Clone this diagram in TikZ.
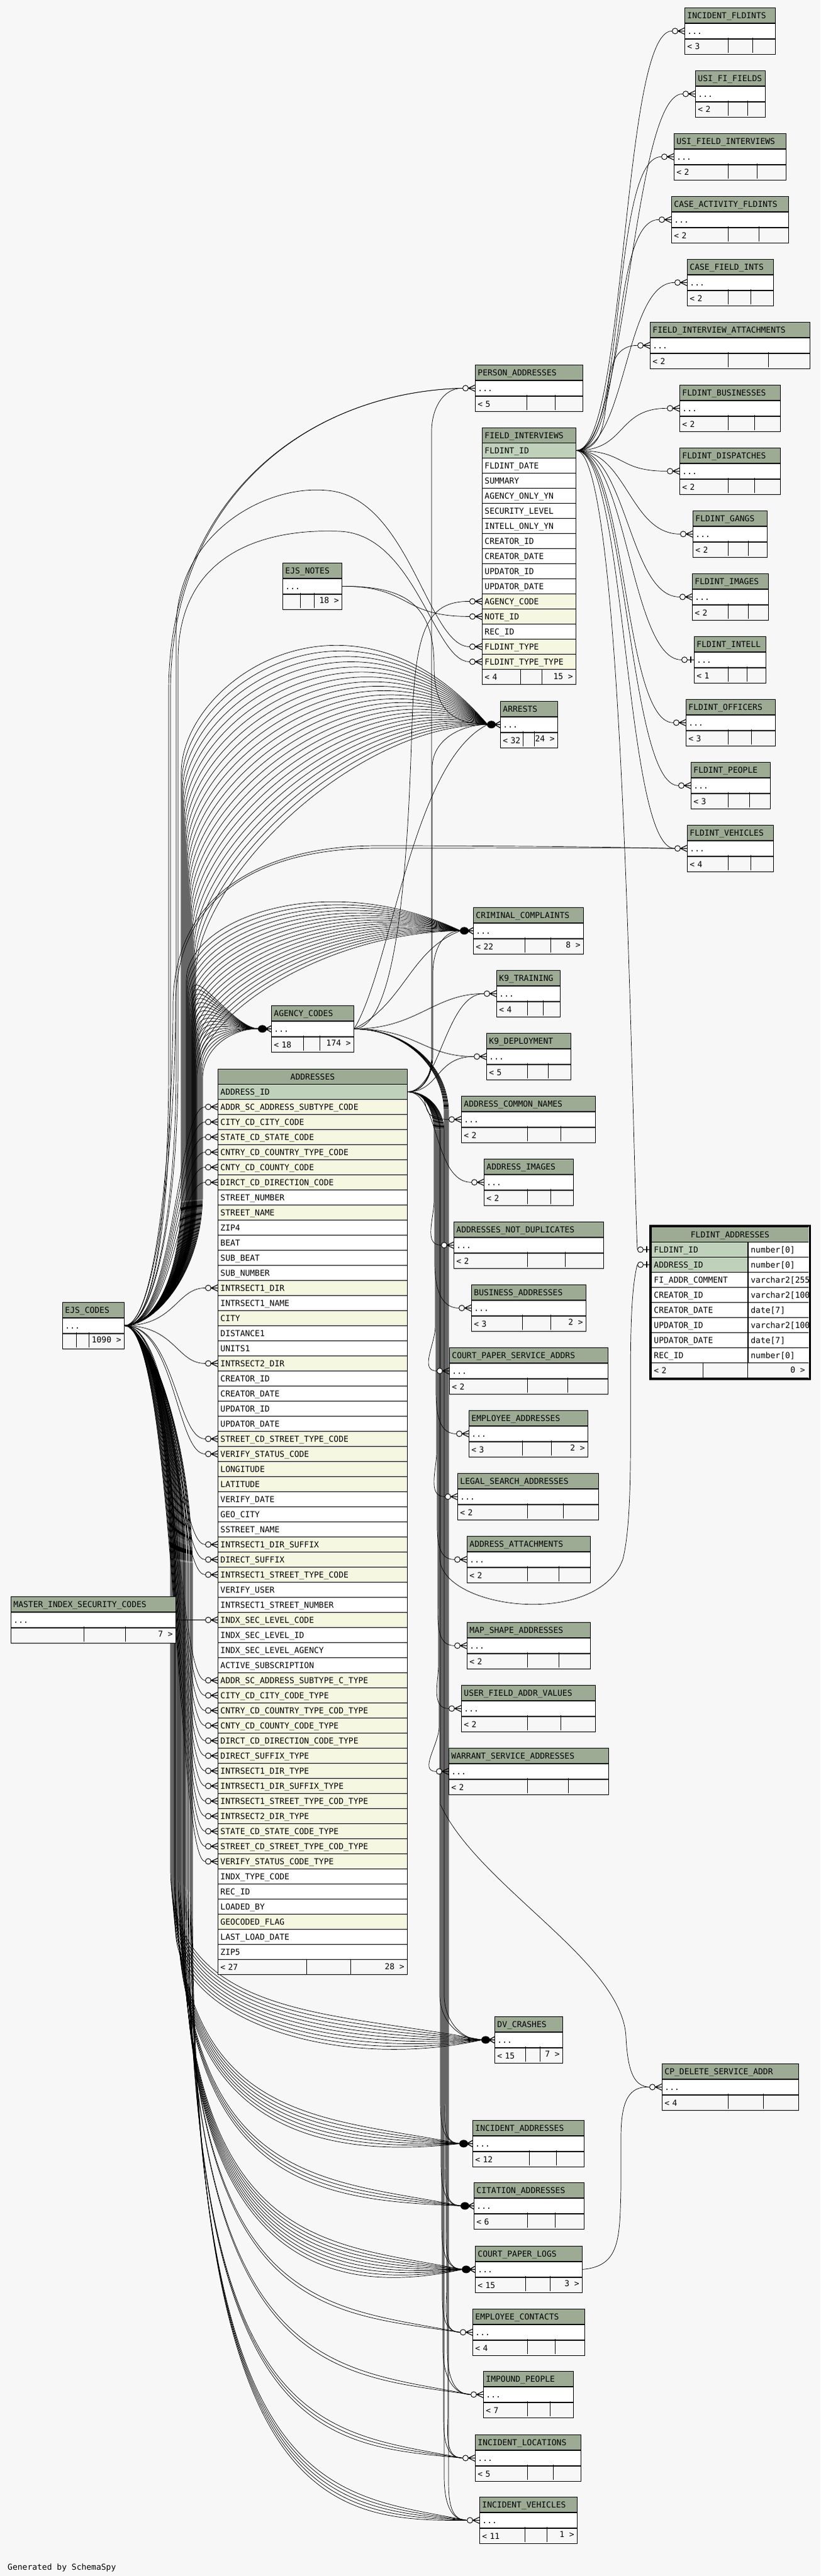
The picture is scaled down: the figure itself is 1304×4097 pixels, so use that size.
\documentclass[tikz,border=0pt]{standalone}
\usepackage{fontspec}
\setmonofont{DejaVu Sans Mono}
\usepackage{tikz}
\usetikzlibrary{positioning,calc,backgrounds}

\definecolor{canvas}{RGB}{247,247,247}
\definecolor{headgreen}{RGB}{157,171,149}
\definecolor{keygreen}{RGB}{191,209,186}
\definecolor{fkyellow}{RGB}{245,247,225}

\begin{document}
\begin{tikzpicture}[
		x=1pt, y=-1pt,
		txt/.style  = {font=\fontsize{13}{13}\selectfont\ttfamily, text height=9.5pt, text depth=0pt},
		cell/.style = {txt, draw, line width=0.9pt, inner xsep=4pt, inner ysep=0pt, minimum height=24pt, align=left},
		head/.style = {cell, fill=headgreen},
		dots/.style = {cell, fill=white},
		foot/.style = {cell, fill=canvas},
		pk/.style   = {cell, fill=keygreen},
		fk/.style   = {cell, fill=fkyellow},
		col/.style  = {cell, fill=white},
		rel/.style  = {line width=0.7pt},
		crow/.pic   = {\draw[line width=0.9pt, fill=canvas] (-15,0) circle[radius=4.5];
		               \draw[line width=1.1pt] (0,-5) -- (-10.5,0) -- (0,5) (-10.5,0) -- (0,0);},
		crowblob/.pic = {\fill (-14,0) ellipse[x radius=7, y radius=6];
		               \draw[line width=1.3pt] (0,-5) -- (-9,0) -- (0,5) (-9,0) -- (0,0);},
		one/.pic    = {\draw[line width=0.9pt, fill=canvas] (-15,0) circle[radius=4.5];
		               \draw[line width=0.9pt] (-10.5,0) -- (0,0);
		               \draw[line width=2.2pt] (-5,-5) -- (-5,5);}
	]
	\useasboundingbox (0,0) rectangle (1304,4097);

	% the small tables: header, one "..." row and the footer
	\foreach \n/\x/\y/\w/\tname/\fl/\fr/\dA/\dB [evaluate=\w as \tw using \w-8] in {
		incfld/1088/12/144/INCIDENT\_FLDINTS/<~3//1157/1196,
		usifi/1105/112/111/USI\_FI\_FIELDS/<~2//1157/1188,
		usifint/1071/212/178/USI\_FIELD\_INTERVIEWS/<~2//1157/1203,
		caseact/1067/312/186/CASE\_ACTIVITY\_FLDINTS/<~2//1157/1206,
		casefld/1092/412/137/CASE\_FIELD\_INTS/<~2//1157/1193,
		fiatt/1033/512/254/FIELD\_INTERVIEW\_ATTACHMENTS/<~2//1157/1221,
		fbus/1080/612/160/FLDINT\_BUSINESSES/<~2//1157/1199,
		fdisp/1080/712/160/FLDINT\_DISPATCHES/<~2//1157/1199,
		fgang/1101/812/118/FLDINT\_GANGS/<~2//1157/1189,
		fimg/1100/912/121/FLDINT\_IMAGES/<~2//1157/1189,
		fintell/1103/1012/114/FLDINT\_INTELL/<~1//1157/1187,
		foff/1090/1112/142/FLDINT\_OFFICERS/<~3//1157/1194,
		fpeople/1098/1212/126/FLDINT\_PEOPLE/<~3//1157/1191,
		fveh/1092/1312/137/FLDINT\_VEHICLES/<~4//1157/1193,
		persaddr/755/580/171/PERSON\_ADDRESSES/<~5//837/882,
		arrests/795/1115/91/ARRESTS/<~32/24~>/831/849,
		crim/752/1443/175/CRIMINAL\_COMPLAINTS/<~22/8~>/834/875,
		k9t/789/1543/101/K9\_TRAINING/<~4//838/863,
		k9d/773/1643/134/K9\_DEPLOYMENT/<~5//838/871,
		addrcn/733/1743/213/ADDRESS\_COMMON\_NAMES/<~2//838/891,
		addrimg/769/1843/142/ADDRESS\_IMAGES/<~2//838/875,
		addrnd/721/1943/238/ADDRESSES\_NOT\_DUPLICATES/<~2//838/898,
		busaddr/749/2043/182/BUSINESS\_ADDRESSES/<~3/2~>/830/875,
		cpsa/714/2143/252/COURT\_PAPER\_SERVICE\_ADDRS/<~2//838/902,
		empaddr/745/2243/189/EMPLOYEE\_ADDRESSES/<~3/2~>/830/876,
		legal/727/2343/224/LEGAL\_SEARCH\_ADDRESSES/<~2//838/895,
		addratt/742/2443/196/ADDRESS\_ATTACHMENTS/<~2//838/888,
		mapshape/742/2580/196/MAP\_SHAPE\_ADDRESSES/<~2//838/888,
		ufav/733/2680/213/USER\_FIELD\_ADDR\_VALUES/<~2//838/891,
		warrant/713/2780/254/WARRANT\_SERVICE\_ADDRESSES/<~2//838/903,
		dvcr/786/3207/108/DV\_CRASHES/<~15/7~>/835/858,
		incaddr/751/3372/177/INCIDENT\_ADDRESSES/<~12//841/884,
		citaddr/753/3471/175/CITATION\_ADDRESSES/<~6//838/882,
		cplogs/755/3572/170/COURT\_PAPER\_LOGS/<~15/3~>/835/874,
		empcont/751/3672/178/EMPLOYEE\_CONTACTS/<~4//838/882,
		impound/768/3771/143/IMPOUND\_PEOPLE/<~7//838/874,
		incloc/755/3872/168/INCIDENT\_LOCATIONS/<~5//838/879,
		incveh/762/3971/155/INCIDENT\_VEHICLES/<~11/1~>/834/869,
		cpdel/1052/3282/217/CP\_DELETE\_SERVICE\_ADDR/<~4//1157/1213,
		ejs/99/2071/98/EJS\_CODES//1090~>/121/141,
		master/17/2539/262/MASTER\_INDEX\_SECURITY\_CODES//7~>/133/199,
		ejsnotes/449/895/94/EJS\_NOTES//18~>/477/499,
		agency/431/1599/131/AGENCY\_CODES/<~18/174~>/482/508}
	{
		\node[head, anchor=north west, minimum width=\w pt, text width=\tw pt] (\n) at (\x,\y) {\tname};
		\node[dots, below=0pt of \n, minimum width=\w pt, text width=\tw pt] (\n-d) {...};
		\node[foot, below=0pt of \n-d, minimum width=\w pt, text width=\tw pt] (\n-f) {\fl};
		\node[txt, anchor=east, inner sep=0pt] (\n-r) at (\x+\w-4,\y+60) {\fr};
		\draw[line width=0.9pt] (\dA,\y+48) -- (\dA,\y+72) (\dB,\y+48) -- (\dB,\y+72);
		\coordinate (\n-in) at ($(\n-d.west)+(-20,0)$);
	}

	% ADDRESSES, the big table in the middle
	\node[head, anchor=north west, minimum width=301pt, text width=293pt, align=center] (addr-0) at (346,1700) {ADDRESSES};
	\foreach \kind/\field [count=\idx] in {pk/ADDRESS\_ID, fk/ADDR\_SC\_ADDRESS\_SUBTYPE\_CODE, fk/CITY\_CD\_CITY\_CODE,
		fk/STATE\_CD\_STATE\_CODE, fk/CNTRY\_CD\_COUNTRY\_TYPE\_CODE, fk/CNTY\_CD\_COUNTY\_CODE, fk/DIRCT\_CD\_DIRECTION\_CODE,
		col/STREET\_NUMBER, fk/STREET\_NAME, col/ZIP4, col/BEAT, col/SUB\_BEAT, col/SUB\_NUMBER, fk/INTRSECT1\_DIR,
		col/INTRSECT1\_NAME, fk/CITY, col/DISTANCE1, col/UNITS1, fk/INTRSECT2\_DIR, col/CREATOR\_ID, col/CREATOR\_DATE,
		col/UPDATOR\_ID, col/UPDATOR\_DATE, fk/STREET\_CD\_STREET\_TYPE\_CODE, fk/VERIFY\_STATUS\_CODE, fk/LONGITUDE,
		fk/LATITUDE, col/VERIFY\_DATE, col/GEO\_CITY, col/SSTREET\_NAME, fk/INTRSECT1\_DIR\_SUFFIX, fk/DIRECT\_SUFFIX,
		fk/INTRSECT1\_STREET\_TYPE\_CODE, col/VERIFY\_USER, col/INTRSECT1\_STREET\_NUMBER, fk/INDX\_SEC\_LEVEL\_CODE,
		col/INDX\_SEC\_LEVEL\_ID, col/INDX\_SEC\_LEVEL\_AGENCY, col/ACTIVE\_SUBSCRIPTION, fk/ADDR\_SC\_ADDRESS\_SUBTYPE\_C\_TYPE,
		fk/CITY\_CD\_CITY\_CODE\_TYPE, fk/CNTRY\_CD\_COUNTRY\_TYPE\_COD\_TYPE, fk/CNTY\_CD\_COUNTY\_CODE\_TYPE,
		fk/DIRCT\_CD\_DIRECTION\_CODE\_TYPE, fk/DIRECT\_SUFFIX\_TYPE, fk/INTRSECT1\_DIR\_TYPE, fk/INTRSECT1\_DIR\_SUFFIX\_TYPE,
		fk/INTRSECT1\_STREET\_TYPE\_COD\_TYPE, fk/INTRSECT2\_DIR\_TYPE, fk/STATE\_CD\_STATE\_CODE\_TYPE,
		fk/STREET\_CD\_STREET\_TYPE\_COD\_TYPE, fk/VERIFY\_STATUS\_CODE\_TYPE, col/INDX\_TYPE\_CODE, col/REC\_ID,
		col/LOADED\_BY, fk/GEOCODED\_FLAG, col/LAST\_LOAD\_DATE, col/ZIP5}
	{
		\node[\kind, anchor=north west, minimum width=301pt, text width=293pt] (addr-\idx) at (346,1700+24*\idx) {\field};
		\coordinate (addr-\idx-in) at ($(addr-\idx.west)+(-20,0)$);
	}
	\node[foot, anchor=north west, minimum width=301pt, text width=293pt] (addr-f) at (346,3116) {<~27};
	\node[txt, anchor=east, inner sep=0pt] (addr-r) at (643,3128) {28~>};
	\draw[line width=0.9pt] (487,3116) -- (487,3140) (557,3116) -- (557,3140);

	% FIELD_INTERVIEWS
	\node[head, anchor=north west, minimum width=149pt, text width=141pt] (fi-0) at (766,680) {FIELD\_INTERVIEWS};
	\foreach \kind/\field [count=\idx] in {pk/FLDINT\_ID, col/FLDINT\_DATE, col/SUMMARY, col/AGENCY\_ONLY\_YN,
		col/SECURITY\_LEVEL, col/INTELL\_ONLY\_YN, col/CREATOR\_ID, col/CREATOR\_DATE, col/UPDATOR\_ID, col/UPDATOR\_DATE,
		fk/AGENCY\_CODE, fk/NOTE\_ID, col/REC\_ID, fk/FLDINT\_TYPE, fk/FLDINT\_TYPE\_TYPE}
	{
		\node[\kind, anchor=north west, minimum width=149pt, text width=141pt] (fi-\idx) at (766,680+24*\idx) {\field};
		\coordinate (fi-\idx-in) at ($(fi-\idx.west)+(-20,0)$);
	}
	\node[foot, anchor=north west, minimum width=149pt, text width=141pt] (fi-f) at (766,1064) {<~4};
	\node[txt, anchor=east, inner sep=0pt] (fi-r) at (911,1076) {15~>};
	\draw[line width=0.9pt] (827,1064) -- (827,1088) (861,1064) -- (861,1088);

	% FLDINT_ADDRESSES, the selected table with its column types
	\begin{scope}
		\clip (1035,1951) rectangle (1285,2191);
		\node[head, anchor=north west, minimum width=250pt, text width=242pt, align=center] (fa-0) at (1035,1951) {FLDINT\_ADDRESSES};
		\foreach \kind/\field/\dtype [count=\idx] in {pk/FLDINT\_ID/number[0], pk/ADDRESS\_ID/number[0],
			col/FI\_ADDR\_COMMENT/varchar2[255], col/CREATOR\_ID/varchar2[100], col/CREATOR\_DATE/date[7],
			col/UPDATOR\_ID/varchar2[100], col/UPDATOR\_DATE/date[7], col/REC\_ID/number[0]}
		{
			\node[\kind, anchor=north west, minimum width=153pt, text width=145pt] (fa-\idx) at (1035,1951+24*\idx) {\field};
			\node[col, anchor=north west, minimum width=97pt, text width=89pt] (fa-\idx-t) at (fa-\idx.north east) {\dtype};
			\coordinate (fa-\idx-in) at ($(fa-\idx.west)+(-22,0)$);
		}
		\node[foot, anchor=north west, minimum width=250pt, text width=242pt] (fa-f) at (1035,2167) {<~2};
		\node[txt, anchor=east, inner sep=0pt] (fa-r) at (1280,2179) {0~>};
		\draw[line width=0.9pt] (1117,2167) -- (1117,2191) (1188,2167) -- (1188,2191);
	\end{scope}
	\draw[line width=3pt] (1033,1949) rectangle (1287,2193);

	\node[txt, anchor=south west, inner sep=0pt] (credit) at (12,4088) {Generated by SchemaSpy};

	% the relationships, behind the tables
	\begin{scope}[on background layer]
		\fill[canvas] (0,0) rectangle (1304,4097);

		% FIELD_INTERVIEWS to its detail tables
		\foreach \c in {incfld,usifi,usifint,caseact,casefld,fiatt,fbus,fdisp,fgang,fimg,fintell,foff,fpeople,fveh}
		\draw[rel] (fi-1.east) .. controls +(80,0) and +(-80,0) .. (\c-in);
		\draw[rel] (fi-1.east) .. controls +(75,0) and +(-10,-250) .. (fa-1-in);

		% EJS_NOTES and AGENCY_CODES
		\draw[rel] (ejsnotes-d.east) .. controls +(110,0) and +(-110,0) .. (fi-12-in);
		\draw[rel] (ejsnotes-d.east) .. controls +(100,0) and (690,960) .. (690,1060) .. controls (690,1130) and (720,1151) .. (arrests-in);
		\draw[rel] (agency-d.east) .. controls (640,1635) and (650,1300) .. (655,1150) .. controls (660,1000) and (680,956) .. (fi-11-in);
		\draw[rel] (agency-d.east) .. controls +(100,0) and +(-80,0) .. (k9t-in);
		\draw[rel] (agency-d.east) .. controls +(100,0) and +(-80,0) .. (k9d-in);
		\draw[rel] (agency-d.east) .. controls +(80,-40) and +(-80,30) .. (crim-in);
		\draw[rel] (agency-d.east) .. controls +(60,-100) and +(-120,60) .. (arrests-in);
		\foreach \c/\bx/\ty in {dvcr/706/3243, incaddr/707/3408, citaddr/708/3507, cplogs/709/3608,
			empcont/710/3708, impound/711/3807, incloc/712/3908, incveh/713/4007}
		\draw[rel] (agency-d.east) to[out=0,in=90] (\bx,1770) -- (\bx,\ty-70) to[out=-90,in=180] (\c-in);

		% ADDRESSES to the tables that hold an address
		\foreach \c/\bx/\ty in {addrnd/690/1979, busaddr/691/2079, cpsa/692/2179, empaddr/693/2279, legal/694/2379,
			addratt/695/2479, mapshape/696/2616, ufav/697/2716, warrant/698/2816, dvcr/699/3243, incaddr/700/3408,
			citaddr/701/3507, cplogs/702/3608, empcont/703/3708, impound/704/3807, incloc/705/3908, incveh/706/4007}
		\draw[rel] (addr-1.east) to[out=0,in=90] (\bx,1800) -- (\bx,\ty-70) to[out=-90,in=180] (\c-in);
		\foreach \c/\bx/\ty in {persaddr/686/616, arrests/687/1151, crim/688/1479}
		\draw[rel] (addr-1.east) to[out=0,in=-90] (\bx,1680) -- (\bx,\ty+70) to[out=90,in=180] (\c-in);
		\foreach \c in {addrcn,addrimg,k9t,k9d}
		\draw[rel] (addr-1.east) .. controls +(50,0) and +(-60,0) .. (\c-in);
		\draw[rel] (addr-1.east) to[out=0,in=90] (699,1800) -- (699,2480) .. controls (705,2560) and (950,2590) .. (990,2480) .. controls (1015,2380) and (990,2100) .. (fa-2-in);
		\draw[rel] (addr-1.east) to[out=0,in=90] (700,1800) -- (700,2870) .. controls (760,3000) and (990,3120) .. (995,3240) .. controls (998,3300) and (1010,3318) .. (cpdel-in);
		\draw[rel] (cplogs-d.east) .. controls +(60,-5) and (985,3560) .. (987,3480) -- (987,3400) .. controls (987,3340) and (1000,3318) .. (cpdel-in);

		% MASTER_INDEX_SECURITY_CODES
		\draw[rel] (master-d.east) -- (addr-36-in);

		% EJS_CODES into the code columns of ADDRESSES
		\foreach \k in {2,3,4,5,6,7,14,19,24,25,31,32,33,40,41,42,43,44,45,46,47,48,49,50,51,52}
		\draw[rel] (ejs-d.east) .. controls +(80,0) and +(-45,0) .. (addr-\k-in);

		% EJS_CODES up to ARRESTS, CRIMINAL_COMPLAINTS and AGENCY_CODES
		\foreach \ii [evaluate=\ii as \xb using 288+\ii, evaluate=\ii as \yb using 1230+14*\ii, evaluate=\ii as \yc using 900+11*\ii] in {0,...,23}
		\draw[rel] (ejs-d.east) .. controls (250,2107) and (\xb,2020) .. (\xb,1900) -- (\xb,\yb) .. controls (\xb,\yb-150) and (560,\yc) .. (arrests-in);
		\foreach \ii [evaluate=\ii as \xb using 296+\ii, evaluate=\ii as \yb using 1560+9*\ii, evaluate=\ii as \yc using 1380+6*\ii] in {0,...,17}
		\draw[rel] (ejs-d.east) .. controls (250,2107) and (\xb,2020) .. (\xb,1900) -- (\xb,\yb) .. controls (\xb,\yb-100) and (520,\yc) .. (crim-in);
		\foreach \ii [evaluate=\ii as \xb using 305+\ii, evaluate=\ii as \yb using 1580+8*\ii] in {0,...,17}
		\draw[rel] (ejs-d.east) .. controls (250,2107) and (\xb,2020) .. (\xb,1900) -- (\xb,\yb) .. controls (\xb,\yb-50) and (370,1635) .. (agency-in);

		% EJS_CODES to PERSON_ADDRESSES, FIELD_INTERVIEWS and FLDINT_VEHICLES
		\foreach \xb in {268,271}
		\draw[rel] (ejs-d.east) .. controls (250,2107) and (\xb,1900) .. (\xb,1700) -- (\xb,1100) .. controls (\xb,800) and (480,625) .. (persaddr-in);
		\draw[rel] (ejs-d.east) .. controls (250,2107) and (280,1900) .. (280,1700) -- (280,1000) .. controls (280,850) and (420,770) .. (520,780) .. controls (650,790) and (680,1028) .. (fi-14-in);
		\draw[rel] (ejs-d.east) .. controls (250,2107) and (283,1900) .. (283,1700) -- (283,1050) .. controls (283,880) and (420,840) .. (540,845) .. controls (660,850) and (690,1052) .. (fi-15-in);
		\foreach \d in {0,4}
		\draw[rel] (ejs-d.east) .. controls (250,2107) and (275+\d,1800) .. (275+\d,1600) .. controls (275+\d,1420) and (420,1345+\d) .. (600,1345+\d) .. controls (850,1345+\d) and (1000,1348) .. (fveh-in);

		% EJS_CODES down to the tables below ADDRESSES
		\foreach \c/\m/\ty/\cx/\sx in {dvcr/9/3243/766/270, incaddr/7/3408/731/276, citaddr/4/3507/733/282, cplogs/9/3608/735/285,
			empcont/2/3708/731/291, impound/2/3807/748/294, incloc/3/3908/735/297, incveh/5/4007/742/301}
		\foreach \ii in {1,...,\m}
		\draw[rel] (ejs-d.east) .. controls (240,2110) and (\sx+\ii,2300) .. (\sx+\ii,2500) -- (\sx+\ii,2960+12*\ii) .. controls (\sx+\ii,\ty-30) and (\cx-230,\ty-56+12*\ii) .. (\c-in);
	\end{scope}

	% the ends of the relationships
	\foreach \c in {incfld,usifi,usifint,caseact,casefld,fiatt,fbus,fdisp,fgang,fimg,foff,fpeople,fveh,persaddr,k9t,k9d,
		addrcn,addrimg,addrnd,busaddr,cpsa,empaddr,legal,addratt,mapshape,ufav,warrant,empcont,impound,incloc,incveh,cpdel}
	\pic at (\c-d.west) {crow};
	\foreach \c in {arrests,crim,agency,dvcr,incaddr,citaddr,cplogs}
	\pic at (\c-d.west) {crowblob};
	\pic at (fintell-d.west) {one};
	\pic at ($(fa-1.west)+(-2,0)$) {one};
	\pic at ($(fa-2.west)+(-2,0)$) {one};
	\foreach \k in {2,3,4,5,6,7,14,19,24,25,31,32,33,36,40,41,42,43,44,45,46,47,48,49,50,51,52}
	\pic at (addr-\k.west) {crow};
	\foreach \k in {11,12,14,15}
	\pic at (fi-\k.west) {crow};
\end{tikzpicture}
\end{document}
